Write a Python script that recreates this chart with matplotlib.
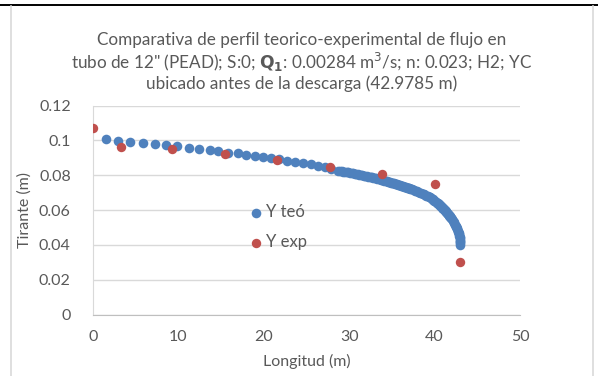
import matplotlib
matplotlib.use("Agg")
import matplotlib.pyplot as plt
from matplotlib.lines import Line2D

# perfil teorico (paso directo)
x_teo = [1.49, 2.91, 4.39, 5.88, 7.21, 8.55, 9.88, 11.21, 12.47, 13.65,
         14.67, 15.85, 16.94, 17.96, 18.98, 19.92, 20.86, 21.80, 22.74, 23.68,
         24.62, 25.49, 26.35, 27.14, 27.92,
         28.71, 28.91, 29.11, 29.31, 29.51, 29.705, 29.90, 30.09, 30.28, 30.465,
         30.65, 30.835, 31.02, 31.195, 31.37, 31.545, 31.72, 31.885, 32.05, 32.215,
         32.38, 32.535, 32.69, 32.845, 33.00, 33.145, 33.29, 33.435, 33.58, 33.72,
         33.86, 33.995, 34.13, 34.26, 34.39, 34.52, 34.65, 34.775, 34.90, 35.025,
         35.15, 35.27, 35.39, 35.51, 35.63, 35.745, 35.86, 35.975, 36.09, 36.20,
         36.31, 36.42, 36.53, 36.635, 36.74, 36.845, 36.95, 37.05, 37.15, 37.25,
         37.35, 37.54, 37.73, 37.91, 38.09,
         38.26, 38.43, 38.59, 38.75, 38.90, 39.05, 39.19, 39.33, 39.45, 39.56,
         39.67, 39.77, 39.87, 39.97, 40.07, 40.16, 40.25, 40.34, 40.43, 40.51,
         40.59, 40.67, 40.75, 40.82, 40.90, 40.97, 41.04, 41.11, 41.18, 41.24,
         41.31, 41.37, 41.44, 41.50, 41.56, 41.62, 41.68, 41.73, 41.79, 41.84,
         41.90, 41.95, 42.05, 42.15, 42.24, 42.32, 42.40, 42.48, 42.55, 42.61,
         42.67, 42.73, 42.78, 42.825, 42.865, 42.90, 42.93, 42.95, 42.965, 42.975,
         42.98, 42.98, 42.98]
y_teo = [0.1007, 0.0999, 0.0992, 0.0988, 0.0982, 0.0975, 0.0967, 0.0957, 0.0953, 0.0946,
         0.0938, 0.0930, 0.0927, 0.0919, 0.0913, 0.0907, 0.0902, 0.0894, 0.0884, 0.0877,
         0.0871, 0.0864, 0.0856, 0.0848, 0.0838,
         0.0827, 0.08253, 0.08235, 0.08218, 0.0820, 0.08183, 0.08165, 0.08148, 0.0813, 0.0811,
         0.0809, 0.0807, 0.0805, 0.08033, 0.08015, 0.07998, 0.0798, 0.07963, 0.07945, 0.07928,
         0.0791, 0.07893, 0.07875, 0.07858, 0.0784, 0.07823, 0.07805, 0.07788, 0.0777, 0.0775,
         0.0773, 0.0771, 0.0769, 0.07673, 0.07655, 0.07638, 0.0762, 0.07603, 0.07585, 0.07568,
         0.0755, 0.07533, 0.07515, 0.07498, 0.0748, 0.07463, 0.07445, 0.07428, 0.0741, 0.0739,
         0.0737, 0.0735, 0.0733, 0.07313, 0.07295, 0.07278, 0.0726, 0.07243, 0.07225, 0.07208,
         0.0719, 0.07155, 0.0712, 0.07085, 0.0705,
         0.0701, 0.0697, 0.06935, 0.0690, 0.06865, 0.0683, 0.06795, 0.0676, 0.06725, 0.0669,
         0.0665, 0.0661, 0.06575, 0.0654, 0.06505, 0.0647, 0.06435, 0.0640, 0.06365, 0.0633,
         0.0629, 0.0625, 0.06215, 0.0618, 0.06145, 0.0611, 0.06075, 0.0604, 0.06005, 0.0597,
         0.0593, 0.0589, 0.05855, 0.0582, 0.05785, 0.0575, 0.05715, 0.0568, 0.05645, 0.0561,
         0.0557, 0.0553, 0.0546, 0.0539, 0.0532, 0.0525, 0.0517, 0.0510, 0.0503, 0.0496,
         0.0489, 0.0481, 0.0474, 0.0467, 0.0460, 0.0453, 0.0445, 0.0438, 0.0431, 0.0424,
         0.0417, 0.0409, 0.0400]

# mediciones experimentales
x_exp = [0.0, 3.3, 9.3, 15.5, 21.6, 27.7, 33.8, 40.0, 43.0]
y_exp = [0.107, 0.096, 0.095, 0.092, 0.089, 0.085, 0.081, 0.075, 0.030]

xticks = [0, 10, 20, 30, 40, 50]
yticks = [0, 0.02, 0.04, 0.06, 0.08, 0.1, 0.12]
ytick_labels = ['0', '0.02', '0.04', '0.06', '0.08', '0.1', '0.12']

plt.rcParams['font.family'] = ['Lato', 'DejaVu Sans']
gris_txt = '#595959'
azul = '#4F81BD'
rojo = '#C0504D'

W, H = 598, 376
fig = plt.figure(figsize=(W / 100, H / 100), dpi=100)

# marco exterior
fig.add_artist(Line2D([0, 1], [1 - 4.6 / H, 1 - 4.6 / H], color='black', lw=1.4))
fig.add_artist(Line2D([11 / W, 11 / W], [0, 1 - 5.5 / H], color='#D9D9D9', lw=1.2))
fig.add_artist(Line2D([593 / W, 593 / W], [0, 1 - 5.5 / H], color='#D9D9D9', lw=1.2))

ax = fig.add_axes([93 / W, 1 - 314.5 / H, (520 - 93) / W, (314.5 - 105.7) / H])

ax.scatter(x_teo, y_teo, s=48, color=azul, linewidths=0, zorder=3, label='Y teó')
ax.scatter(x_exp, y_exp, s=46, color=rojo, linewidths=0, zorder=4, label='Y exp')

ax.set_xlim(0, 50)
ax.set_ylim(0, 0.12)
ax.set_xticks(xticks)
ax.set_yticks(yticks)
ax.set_yticklabels(ytick_labels)
ax.tick_params(length=0, labelsize=11.5, colors=gris_txt)
ax.tick_params(axis='x', pad=11)
ax.tick_params(axis='y', pad=16)
ax.grid(axis='y', color='#D9D9D9', lw=1)
ax.set_axisbelow(True)
for s in ['top', 'right']:
    ax.spines[s].set_visible(False)
ax.spines['left'].set_color('#D9D9D9')
ax.spines['bottom'].set_color('#BFBFBF')

ax.set_xlabel('Longitud (m)', fontsize=11.5, color=gris_txt, labelpad=7)
ax.set_ylabel('Tirante (m)', fontsize=11.5, color=gris_txt, labelpad=5)

titulo = ['Comparativa de perfil teorico-experimental de flujo en',
          'tubo de 12" (PEAD); S:0; $\\mathbf{Q_1}$: 0.00284 m$^3$/s; n: 0.023; H2; YC',
          'ubicado antes de la descarga (42.9785 m)']
for i, linea in enumerate(titulo):
    fig.text(302 / W, 1 - (40 + 22 * i) / H, linea,
             ha='center', va='center', fontsize=12.3, color=gris_txt)

leg = ax.legend(loc='upper left', bbox_to_anchor=(249 / W, 1 - 204 / H),
                bbox_transform=fig.transFigure, frameon=False, fontsize=12,
                handlelength=0.8, handletextpad=0.2, labelspacing=0.85,
                borderpad=0, borderaxespad=0)
for t in leg.get_texts():
    t.set_color(gris_txt)

fig.savefig('out.png', dpi=100)
